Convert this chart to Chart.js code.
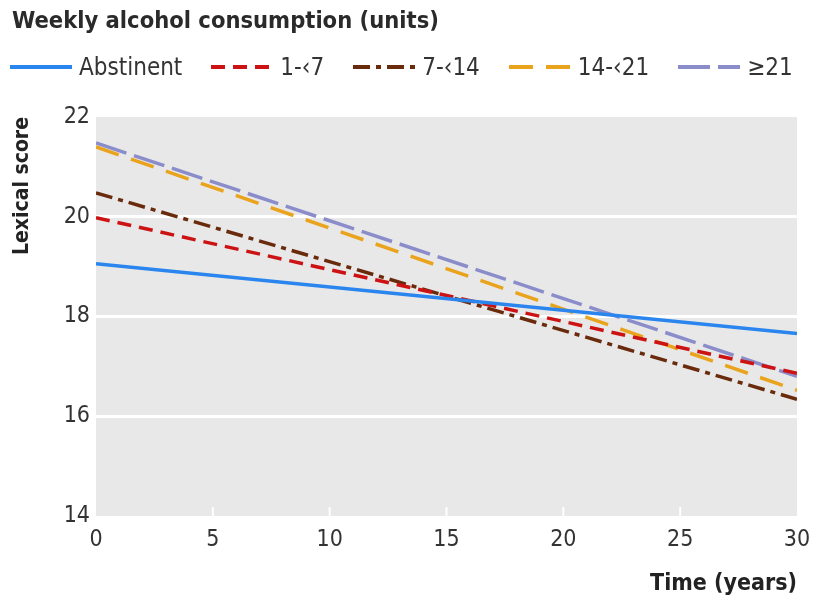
<!DOCTYPE html>
<html lang="en">
<head>
  <meta charset="UTF-8">
  <title>Lexical score by weekly alcohol consumption</title>
  <script src="https://cdn.jsdelivr.net/npm/chart.js"></script>
  <style>
    body { margin: 0; background: #fff; font-family: "DejaVu Sans Condensed", "DejaVu Sans", sans-serif; font-stretch: condensed; color: #222; }
    .wrap { position: relative; width: 814px; height: 598px; }
    canvas { position: absolute; left: 0; top: 0; }
    .title { position: absolute; left: 12px; top: 6px; font-size: 23.5px; font-weight: bold; color: #2a2a2a; }
    .legend { position: absolute; left: 10px; top: 53px; display: flex; align-items: center; font-size: 24px; color: #333; }
    .legend .item { display: flex; align-items: center; margin-right: 29px; }
    .legend svg { margin-right: 7px; }
  </style>
</head>
<body>
  <div class="wrap">
    <canvas id="chart" width="814" height="598"></canvas>
    <div class="title">Weekly alcohol consumption (units)</div>
    <div class="legend" id="legend"></div>
  </div>

  <script>
    // data: straight lines from year 0 to year 30
    const years = [0, 30];
    const groups = ['Abstinent', '1-‹7', '7-‹14', '14-‹21', '≥21'];
    const abstinent = [19.06, 17.66];
    const light = [19.98, 16.86];
    const moderate = [20.48, 16.34];
    const heavy = [21.4, 16.52];
    const veryHeavy = [21.48, 16.8];
    const yTicks = [14, 16, 18, 20, 22];
    const xTicks = [0, 5, 10, 15, 20, 25, 30];

    const colors = ['#2a86ee', '#cc1212', '#6a2a0c', '#e9a31c', '#8b8dcb'];
    const dashes = [[], [14, 8], [17, 6, 5, 6], [24, 13], [32, 8]];
    const series = [abstinent, light, moderate, heavy, veryHeavy];

    // legend as html with small line samples
    const legend = document.getElementById('legend');
    groups.forEach((g, i) => {
      const item = document.createElement('div');
      item.className = 'item';
      const w = 62;
      item.innerHTML = `<svg width="${w}" height="10"><line x1="0" y1="5" x2="${w}" y2="5" stroke="${colors[i]}" stroke-width="4" stroke-dasharray="${dashes[i].join(' ') || 'none'}"/></svg><span>${g}</span>`;
      legend.appendChild(item);
    });

    const bgPlugin = {
      id: 'bg',
      beforeDraw(chart) {
        const { ctx, chartArea: a } = chart;
        ctx.save();
        ctx.fillStyle = '#e8e8e8';
        ctx.fillRect(a.left, a.top, a.right - a.left, a.bottom - a.top);
        ctx.restore();
      },
      beforeDatasetsDraw(chart) {
        // short white inward ticks on the bottom edge
        const { ctx, chartArea: a, scales } = chart;
        ctx.save();
        ctx.strokeStyle = '#fff';
        ctx.lineWidth = 2;
        xTicks.slice(1, -1).forEach(v => {
          const x = scales.x.getPixelForValue(v);
          ctx.beginPath();
          ctx.moveTo(x, a.bottom);
          ctx.lineTo(x, a.bottom - 9);
          ctx.stroke();
        });
        ctx.restore();
      }
    };

    const fam = '"DejaVu Sans Condensed", "DejaVu Sans", sans-serif';
    const tickFont = { family: fam, size: 23 };

    new Chart(document.getElementById('chart').getContext('2d'), {
      type: 'line',
      data: {
        datasets: series.map((s, i) => ({
          label: groups[i],
          data: years.map((x, j) => ({ x, y: s[j] })),
          borderColor: colors[i],
          borderWidth: 3.5,
          borderDash: dashes[i],
          pointRadius: 0,
          fill: false,
          order: i === 0 ? 0 : 1
        }))
      },
      options: {
        responsive: false,
        animation: false,
        layout: { padding: { top: 117, right: 17, left: 0, bottom: 0 } },
        scales: {
          x: {
            type: 'linear',
            min: 0, max: 30,
            afterBuildTicks: s => { s.ticks = xTicks.map(v => ({ value: v })); },
            afterFit: s => { s.height = 82; },
            grid: { display: false },
            border: { display: false },
            ticks: { font: tickFont, color: '#333', padding: 2 },
            title: { display: true, text: 'Time (years)', align: 'end', font: { family: fam, size: 23, weight: 'bold' }, color: '#222', padding: { top: 10, bottom: 0 } }
          },
          y: {
            min: 14, max: 22,
            afterBuildTicks: s => { s.ticks = yTicks.map(v => ({ value: v })); },
            afterFit: s => { s.width = 96; },
            grid: {
              color: c => (c.tick.value === 14 || c.tick.value === 22) ? 'rgba(0,0,0,0)' : '#ffffff',
              lineWidth: 3,
              drawTicks: false
            },
            border: { display: false },
            ticks: { font: tickFont, color: '#333', padding: 6 },
            title: { display: true, text: 'Lexical score', align: 'end', font: { family: fam, size: 21, weight: 'bold' }, color: '#222', padding: { top: 10, bottom: 10 } }
          }
        },
        plugins: { legend: { display: false }, tooltip: { enabled: false } }
      },
      plugins: [bgPlugin]
    });
  </script>
</body>
</html>
